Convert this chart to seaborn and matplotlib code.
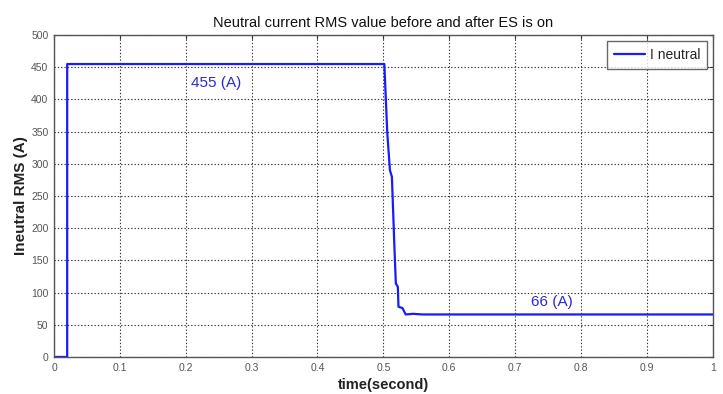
import matplotlib
matplotlib.use("Agg")
import matplotlib.pyplot as plt
import seaborn as sns
import pandas as pd

# Data
time = [0.0, 0.02, 0.02, 0.5015, 0.506, 0.510, 0.513, 0.517, 0.519, 0.522,
        0.523, 0.529, 0.534, 0.545, 0.56, 0.58, 1.0]
current = [0, 0, 455, 455, 348, 290, 280, 166, 114, 109,
           78, 76, 66, 67, 66, 66, 66]
xticks = [0, 0.1, 0.2, 0.3, 0.4, 0.5, 0.6, 0.7, 0.8, 0.9, 1]
xticklabels = ["0", "0.1", "0.2", "0.3", "0.4", "0.5", "0.6", "0.7", "0.8", "0.9", "1"]
yticks = [0, 50, 100, 150, 200, 250, 300, 350, 400, 450, 500]
annotations = [("455 (A)", 0.246, 425), ("66 (A)", 0.756, 85)]

sns.set_style("white")
plt.rcParams['font.family'] = ['Liberation Sans', 'DejaVu Sans']

df = pd.DataFrame({"time": time, "current": current})

fig = plt.figure(figsize=(7.23, 3.94), dpi=100)
ax = fig.add_axes([0.0747, 0.094, 0.911, 0.817])

sns.lineplot(data=df, x="time", y="current", sort=False, estimator=None,
             color="#1a1aff", linewidth=1.6, label="I neutral", ax=ax)

ax.set_xlim(0, 1)
ax.set_ylim(0, 500)
ax.set_xticks(xticks)
ax.set_xticklabels(xticklabels)
ax.set_yticks(yticks)
ax.tick_params(axis="both", direction="in", length=3, labelsize=7.5,
               labelcolor="#555555", color="#333333", top=True, right=True,
               pad=4)
ax.grid(True, linestyle=(0, (1.2, 1.8)), color="#333333", linewidth=0.8)
for s in ax.spines.values():
    s.set_color("#555555")
    s.set_linewidth(1.0)

ax.set_title("Neutral current RMS value before and after ES is on",
             fontsize=10.5, color="#111111", pad=6)
ax.set_xlabel("time(second)", fontsize=10.5, fontweight="bold", color="#222222",
              labelpad=4)
ax.set_ylabel("Ineutral RMS (A)", fontsize=11, fontweight="bold", color="#222222",
              labelpad=2)

for txt, x, y in annotations:
    ax.text(x, y, txt, color="#2a2ad0", fontsize=11, ha="center", va="center")

leg = ax.legend(loc="upper right", fontsize=10, frameon=True, fancybox=False,
                handlelength=2.2, borderpad=0.5, handletextpad=0.35,
                borderaxespad=0.4)
leg.get_frame().set_edgecolor("#444444")
leg.get_frame().set_linewidth(1.0)

fig.savefig("out.png", dpi=100)
